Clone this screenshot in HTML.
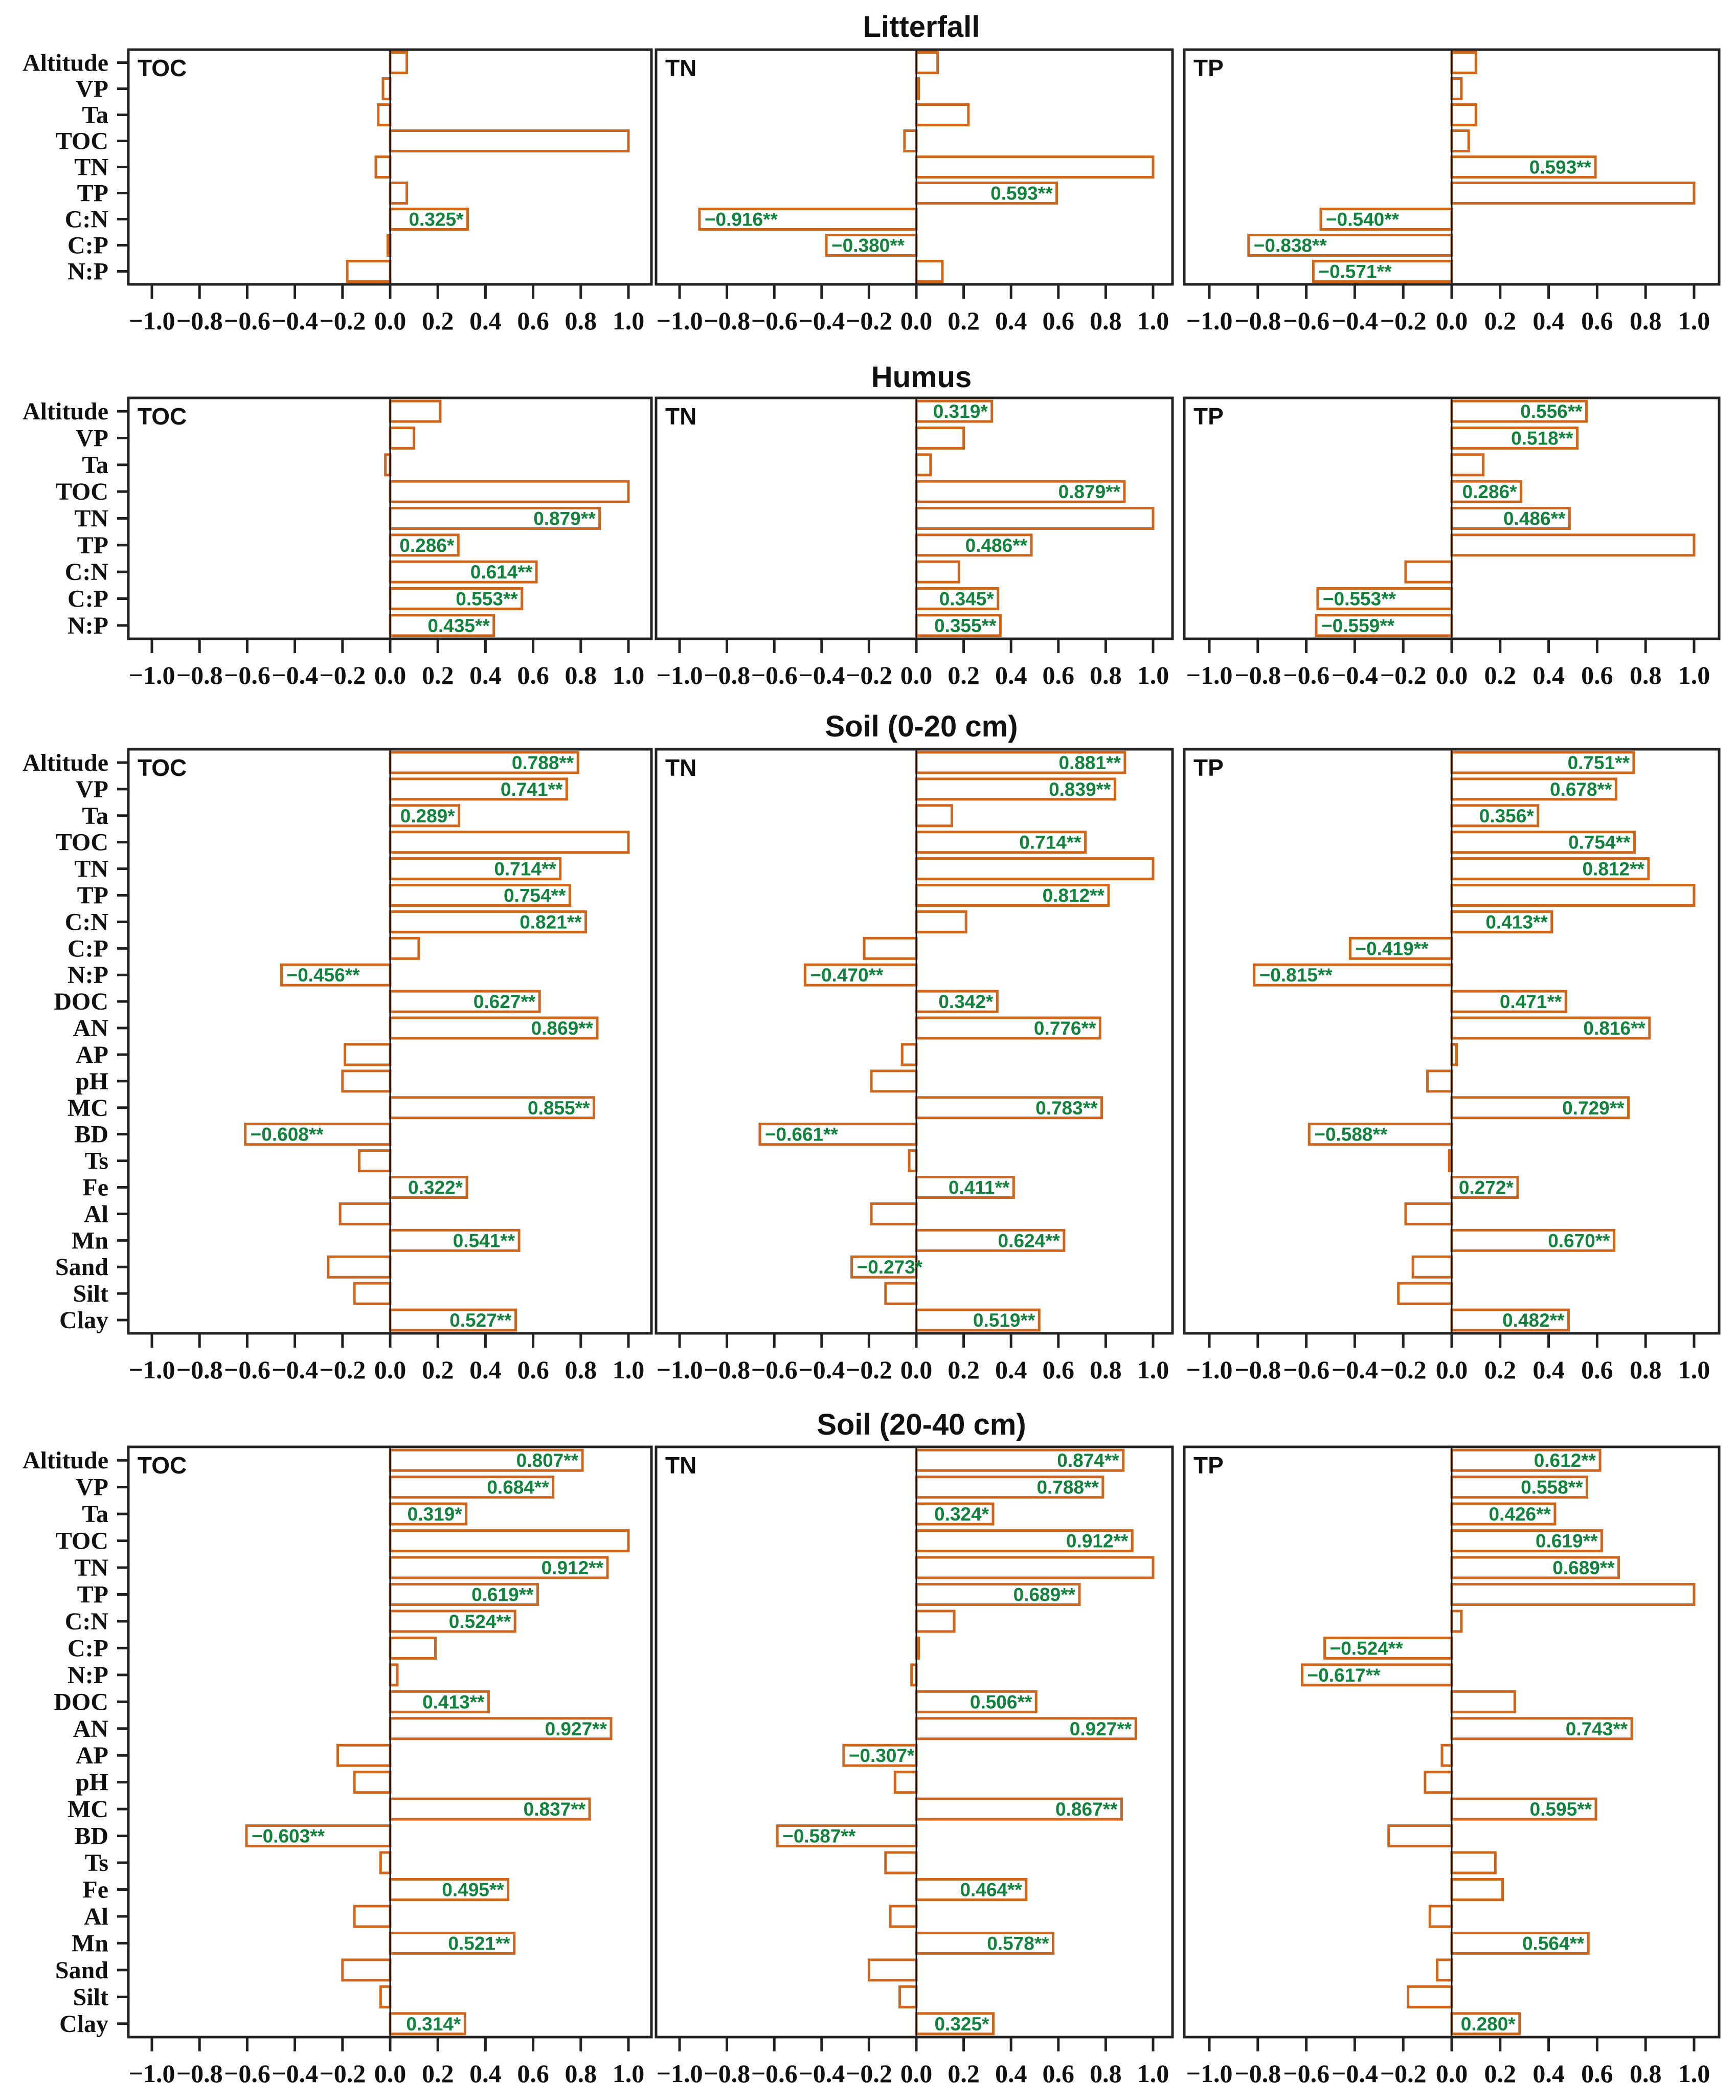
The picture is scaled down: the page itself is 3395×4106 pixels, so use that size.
<!DOCTYPE html>
<html><head><meta charset="utf-8">
<style>
html,body{margin:0;padding:0;background:#fff;}
svg{display:block;}
</style></head>
<body>
<svg id="chart" width="3395" height="4106" viewBox="0 0 3395 4106" xmlns="http://www.w3.org/2000/svg"></svg>
<script>
// ---- data ----
const sectionTitles = ["Litterfall", "Humus", "Soil (0-20 cm)", "Soil (20-40 cm)"];
const panelNames = ["TOC", "TN", "TP"];
const catsShort = ["Altitude","VP","Ta","TOC","TN","TP","C:N","C:P","N:P"];
const catsLong = ["Altitude","VP","Ta","TOC","TN","TP","C:N","C:P","N:P","DOC","AN","AP","pH","MC","BD","Ts","Fe","Al","Mn","Sand","Silt","Clay"];
const tickValues = [-1.0,-0.8,-0.6,-0.4,-0.2,0.0,0.2,0.4,0.6,0.8,1.0];
const tickLabels = ["\u22121.0","\u22120.8","\u22120.6","\u22120.4","\u22120.2","0.0","0.2","0.4","0.6","0.8","1.0"];

// Litterfall
const litTOC = [0.07,-0.03,-0.05,1.0,-0.06,0.07,0.325,-0.01,-0.18];
const litTOCsig = ["","","","","","","*","",""];
const litTN = [0.09,0.01,0.22,-0.05,1.0,0.593,-0.916,-0.380,0.11];
const litTNsig = ["","","","","","**","**","**",""];
const litTP = [0.10,0.04,0.10,0.07,0.593,1.0,-0.540,-0.838,-0.571];
const litTPsig = ["","","","","**","","**","**","**"];
// Humus
const humTOC = [0.21,0.10,-0.02,1.0,0.879,0.286,0.614,0.553,0.435];
const humTOCsig = ["","","","","**","*","**","**","**"];
const humTN = [0.319,0.20,0.06,0.879,1.0,0.486,0.18,0.345,0.355];
const humTNsig = ["*","","","**","","**","","*","**"];
const humTP = [0.556,0.518,0.13,0.286,0.486,1.0,-0.19,-0.553,-0.559];
const humTPsig = ["**","**","","*","**","","","**","**"];
// Soil 0-20
const s1TOC = [0.788,0.741,0.289,1.0,0.714,0.754,0.821,0.12,-0.456,0.627,0.869,-0.19,-0.20,0.855,-0.608,-0.13,0.322,-0.21,0.541,-0.26,-0.15,0.527];
const s1TOCsig = ["**","**","*","","**","**","**","","**","**","**","","","**","**","","*","","**","","","**"];
const s1TN = [0.881,0.839,0.15,0.714,1.0,0.812,0.21,-0.22,-0.470,0.342,0.776,-0.06,-0.19,0.783,-0.661,-0.03,0.411,-0.19,0.624,-0.273,-0.13,0.519];
const s1TNsig = ["**","**","","**","","**","","","**","*","**","","","**","**","","**","","**","*","","**"];
const s1TP = [0.751,0.678,0.356,0.754,0.812,1.0,0.413,-0.419,-0.815,0.471,0.816,0.02,-0.10,0.729,-0.588,-0.01,0.272,-0.19,0.670,-0.16,-0.22,0.482];
const s1TPsig = ["**","**","*","**","**","","**","**","**","**","**","","","**","**","","*","","**","","","**"];
// Soil 20-40
const s2TOC = [0.807,0.684,0.319,1.0,0.912,0.619,0.524,0.19,0.03,0.413,0.927,-0.22,-0.15,0.837,-0.603,-0.04,0.495,-0.15,0.521,-0.20,-0.04,0.314];
const s2TOCsig = ["**","**","*","","**","**","**","","","**","**","","","**","**","","**","","**","","","*"];
const s2TN = [0.874,0.788,0.324,0.912,1.0,0.689,0.16,0.01,-0.02,0.506,0.927,-0.307,-0.09,0.867,-0.587,-0.13,0.464,-0.11,0.578,-0.20,-0.07,0.325];
const s2TNsig = ["**","**","*","**","","**","","","","**","**","*","","**","**","","**","","**","","","*"];
const s2TP = [0.612,0.558,0.426,0.619,0.689,1.0,0.04,-0.524,-0.617,0.26,0.743,-0.04,-0.11,0.595,-0.26,0.18,0.21,-0.09,0.564,-0.06,-0.18,0.280];
const s2TPsig = ["**","**","**","**","**","","","**","**","","**","","","**","","","","","**","","","*"];

// ---- layout ----
const NS = "http://www.w3.org/2000/svg";
const svg = document.getElementById('chart');
const colFrames = [[251,1274],[1283,2293],[2316,3362]];
const colZero = [763,1792,2839];
const colUnit = [466,463,474];
const secFrames = [[97,556],[778,1249],[1465,2607],[2829,3983]];
const titleY = [72,757,1440,2805];
const sections = [
  {cats:catsShort, vals:[litTOC,litTN,litTP], sig:[litTOCsig,litTNsig,litTPsig]},
  {cats:catsShort, vals:[humTOC,humTN,humTP], sig:[humTOCsig,humTNsig,humTPsig]},
  {cats:catsLong, vals:[s1TOC,s1TN,s1TP], sig:[s1TOCsig,s1TNsig,s1TPsig]},
  {cats:catsLong, vals:[s2TOC,s2TN,s2TP], sig:[s2TOCsig,s2TNsig,s2TPsig]}
];
function mk(tag, attrs, parent){
  const e = document.createElementNS(NS, tag);
  for (const k in attrs) e.setAttribute(k, attrs[k]);
  (parent||svg).appendChild(e);
  return e;
}
const ORANGE = "#d0661c", GREEN = "#12833c";

sections.forEach((sec, si) => {
  const [top, bot] = secFrames[si];
  const n = sec.cats.length;
  const step = (bot - top) / n;
  const yC = i => top + (i + 0.5) * step;
  const g = mk('g', {});
  
  
  const t = mk('text', {x:1802, y:titleY[si], 'text-anchor':'middle', 'font-family':'Liberation Sans, sans-serif', 'font-weight':'bold', 'font-size':58, fill:'#111'}, g);
  t.textContent = sectionTitles[si];
  
  
  sec.cats.forEach((c, i) => {
    const tx = mk('text', {x:212, y:yC(i)+16, 'text-anchor':'end', 'font-family':'Liberation Serif, serif', 'font-weight':'bold', 'font-size':48, fill:'#111'}, g);
    tx.textContent = c;
    
    
  });
  for (let ci = 0; ci < 3; ci++) {
    const [L, R] = colFrames[ci];
    const z = colZero[ci], u = colUnit[ci];
    const xS = v => z + v * u;
    const pg = mk('g', {}, g);
    
    
    if (ci === 0) {
      sec.cats.forEach((c, i) => {
        const tk = mk('line', {x1:L-22, x2:L, y1:yC(i), y2:yC(i), stroke:'#222', 'stroke-width':5}, pg);
        
        
      });
    }
    const vals = sec.vals[ci], sig = sec.sig[ci];
    vals.forEach((v, i) => {
      const x0 = Math.min(xS(0), xS(v)), w = Math.abs(xS(v) - xS(0));
      const b = mk('rect', {x:x0, y:yC(i)-20, width:Math.max(w,2), height:40, fill:'#fff', stroke:ORANGE, 'stroke-width':5}, pg);
      
      
    });
    const zl = mk('line', {x1:z, x2:z, y1:top, y2:bot, stroke:'#111', 'stroke-width':3}, pg);
    
    
    vals.forEach((v, i) => {
      if (!sig[i]) return;
      const txt = (v < 0 ? '\u2212' : '') + Math.abs(v).toFixed(3) + sig[i];
      const lb = mk('text', {y:yC(i)+13, 'font-family':'Liberation Sans, sans-serif', 'font-weight':'bold', 'font-size':37, fill:GREEN}, pg);
      lb.textContent = txt;
      
      
      const tw = lb.getComputedTextLength();
      if (v >= 0) {
        const end = Math.max(xS(v) - 8, xS(0) + tw + 10);
        lb.setAttribute('x', end - tw);
      } else {
        lb.setAttribute('x', xS(v) + 10);
      }
    });
    const fr = mk('rect', {x:L, y:top, width:R-L, height:bot-top, fill:'none', stroke:'#222', 'stroke-width':5}, pg);
    
    
    const pn = mk('text', {x:L+18, y:top+52, 'font-family':'Liberation Sans, sans-serif', 'font-weight':'bold', 'font-size':46, fill:'#111'}, pg);
    pn.textContent = panelNames[ci];
    
    
    tickValues.forEach((tv, k) => {
      const tk = mk('line', {x1:xS(tv), x2:xS(tv), y1:bot, y2:bot+28, stroke:'#222', 'stroke-width':5}, pg);
      
      
      const tl = mk('text', {x:xS(tv), y:bot+88, 'text-anchor':'middle', 'font-family':'Liberation Serif, serif', 'font-weight':'bold', 'font-size':50, fill:'#111'}, pg);
      tl.textContent = tickLabels[k];
      
      
    });
  }
});
</script>
</body></html>
